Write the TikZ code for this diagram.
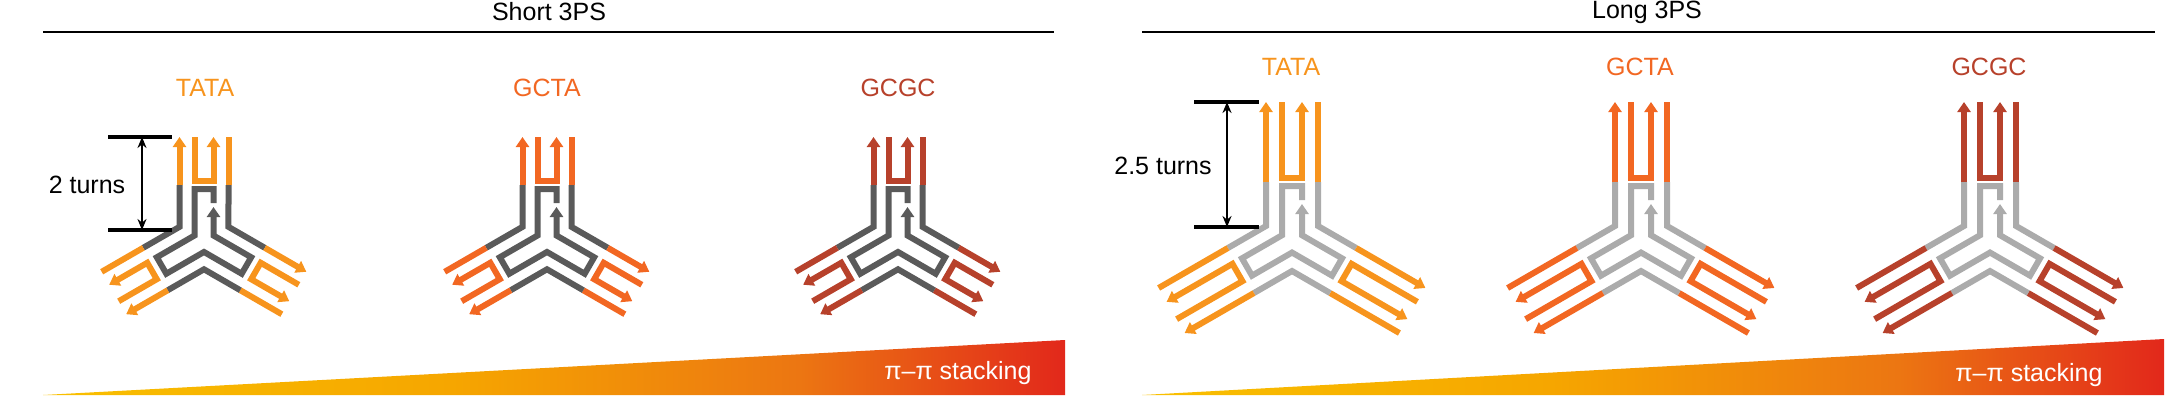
\documentclass[tikz,border=0pt]{standalone}
\usepackage{fontspec}
\setmainfont{Liberation Sans}
\usetikzlibrary{arrows.meta}
\definecolor{cTATA}{HTML}{F7941D}
\definecolor{cGCTA}{HTML}{F26722}
\definecolor{cGCGC}{HTML}{B7412B}
\definecolor{gDark}{HTML}{5A5A5A}
\definecolor{gLight}{HTML}{ABABAB}
\pgfdeclarehorizontalshading{stackshade}{100bp}{color(0bp)=(rgb,255:red,249;green,192;blue,0); color(25bp)=(rgb,255:red,249;green,192;blue,0); color(45bp)=(rgb,255:red,246;green,166;blue,0); color(62bp)=(rgb,255:red,236;green,118;blue,18); color(75bp)=(rgb,255:red,226;green,40;blue,27); color(100bp)=(rgb,255:red,226;green,40;blue,27)}
\tikzset{
  strand/.style={line width=6pt, line join=miter, line cap=butt},
  tip/.style={-{Triangle[length=10pt,width=13pt]}},
  lab/.style={font=\fontsize{25}{30}\selectfont},
  dimbar/.style={line width=4.5pt},
  dimarrow/.style={line width=2.2pt,{Stealth[length=11pt,width=9pt]}-{Stealth[length=11pt,width=9pt]}},
}
% rotated point: angle, x, y
\newcommand\rp[3]{({(#2)*cos(#1)-(#3)*sin(#1)},{(#2)*sin(#1)+(#3)*cos(#1)})}
% coloured parts and outer gray, one arm: #1 colour, #2 gray, #3 h, #4 i, #5 s, #6 L
\newcommand\motifarm[6]{%
  \draw[strand, draw=#2] (-#3,#5) -- (-#3,{0.577*#3}) -- \rp{120}{#3}{#5};
  \draw[strand, draw=#1, tip] (-#3,#5) -- (-#3,#6);
  \draw[strand, draw=#1] (#3,#5) -- (#3,#6);
  \draw[strand, draw=#1, tip] (-#4,#6) -- (-#4,{#5+4}) -- (#4,{#5+4}) -- (#4,#6);
}
% #1 x, #2 y, #3 colour, #4 gray, #5 h, #6 i, #7 s, #8 L
\newcommand\motif[8]{%
  \begin{scope}[shift={(#1,#2)}, yscale=-1]
    \foreach \rr in {0,120,240}{%
      \begin{scope}[rotate=\rr]\motifarm{#3}{#4}{#5}{#6}{#7}{#8}\end{scope}}
    \draw[strand, draw=#4, tip] (#6,{#7-18}) -- (#6,{#7-4}) -- (-#6,{#7-4}) -- (-#6,{0.577*#6})
      -- \rp{120}{#6}{#7-7} -- \rp{120}{-#6}{#7-7} -- \rp{120}{-#6}{0.577*#6}
      -- \rp{240}{#6}{#7-7} -- \rp{240}{-#6}{#7-7} -- \rp{240}{-#6}{0.577*#6}
      -- (#6,{#7-22});
  \end{scope}}
\begin{document}
\begin{tikzpicture}[x=1pt,y=-1pt]
\useasboundingbox (0,0) rectangle (2167,407);
% headers
\node[lab] (tshort) at (549,12) {Short 3PS};
\node[lab] (tlong) at (1647,12) {Long 3PS};
\draw[line width=1.5pt] (43,32) -- (1054,32);
\draw[line width=1.5pt] (1142,32) -- (2155,32);
% gradients
\shade[shading=stackshade] (43,395) -- (1065,340) -- (1065,395) -- cycle;
\shade[shading=stackshade] (1142,395) -- (2164,339) -- (2164,395) -- cycle;
\node[lab, text=white, anchor=east] (pis) at (1035,373) {π–π stacking};
\node[lab, text=white, anchor=east] (pil) at (2106,375) {π–π stacking};
% labels
\node[lab, text=cTATA] (l1) at (205,88) {TATA};
\node[lab, text=cGCTA] (l2) at (547,88) {GCTA};
\node[lab, text=cGCGC] (l3) at (898,88) {GCGC};
\node[lab, text=cTATA] (l4) at (1291,67) {TATA};
\node[lab, text=cGCTA] (l5) at (1640,67) {GCTA};
\node[lab, text=cGCGC] (l6) at (1989,67) {GCGC};
% motifs
\motif{204}{241}{cTATA}{gDark}{24.5}{9.5}{56}{104}
\motif{547}{241}{cGCTA}{gDark}{24.5}{9.5}{56}{104}
\motif{898}{241}{cGCGC}{gDark}{24.5}{9.5}{56}{104}
\motif{1292}{241}{cTATA}{gLight}{26}{10}{59}{139}
\motif{1641}{241}{cGCTA}{gLight}{26}{10}{59}{139}
\motif{1990}{241}{cGCGC}{gLight}{26}{10}{59}{139}
% dimensions
\coordinate (sa) at (142,137); \coordinate (sb) at (142,230);
\draw[dimbar] (108,137) -- (172,137);
\draw[dimbar] (108,230) -- (172,230);
\draw[dimarrow] (sa) -- (sb);
\node[lab] (st) at (87,185) {2 turns};
\coordinate (la) at (1227,102); \coordinate (lb) at (1227,227);
\draw[dimbar] (1194,102) -- (1259,102);
\draw[dimbar] (1194,227) -- (1259,227);
\draw[dimarrow] (la) -- (lb);
\node[lab] (lt) at (1163,166) {2.5 turns};
\end{tikzpicture}
\end{document}
